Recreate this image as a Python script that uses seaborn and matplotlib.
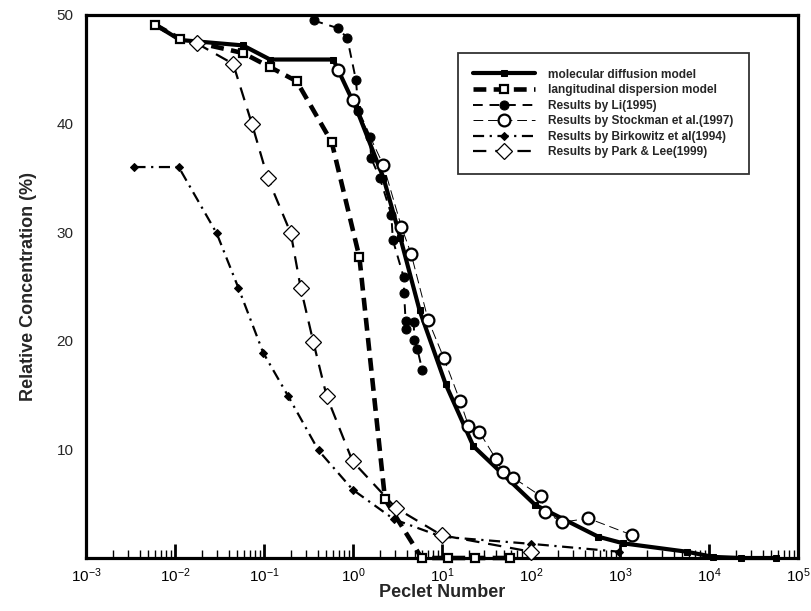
import numpy as np
import pandas as pd
import matplotlib
matplotlib.use("Agg")
import matplotlib.pyplot as plt
from matplotlib.ticker import LogLocator, NullFormatter, FixedLocator
import seaborn as sns

# ---- data -------------------------------------------------------------
mol_x = [0.006, 0.0114, 0.058, 0.117, 0.6, 1.1, 2.2, 3.4, 5.6, 11.0, 22.5, 111, 570, 1090, 5600, 11200, 23000, 57000]
mol_y = [49.1, 47.7, 47.2, 45.9, 45.9, 41.3, 35.0, 29.5, 22.8, 16.0, 10.3, 4.9, 1.96, 1.35, 0.58, 0.1, 0.0, 0.0]

disp_x = [0.006, 0.0114, 0.058, 0.117, 0.233, 0.576, 1.18, 2.29, 5.9, 11.8, 23.4, 58]
disp_y = [49.1, 47.8, 46.5, 45.2, 43.9, 38.3, 27.7, 5.4, 0.0, 0.0, 0.0, 0.0]

li_x = [0.36, 0.67, 0.86, 1.08, 1.15, 1.55, 1.6, 2.0, 2.7, 2.8, 3.7, 3.75, 3.9, 3.95, 4.8, 4.9, 5.3, 6.0]
li_y = [49.5, 48.8, 47.9, 44.0, 41.2, 38.8, 36.8, 35.0, 31.6, 29.3, 25.9, 24.4, 21.8, 21.1, 21.7, 20.1, 19.2, 17.3]

stock_x = [0.68, 0.99, 2.19, 3.5, 4.5, 7.0, 10.5, 15.9, 19.8, 26.3, 40.5, 48.8, 63, 129, 144, 225, 441, 1375]
stock_y = [44.9, 42.2, 36.2, 30.5, 28.0, 21.9, 18.4, 14.5, 12.2, 11.6, 9.1, 7.9, 7.4, 5.7, 4.2, 3.3, 3.65, 2.1]

birk_x = [0.0035, 0.011, 0.0294, 0.0514, 0.098, 0.187, 0.41, 0.99, 2.89, 9.9, 101, 975]
birk_y = [36.0, 36.0, 29.9, 24.9, 18.9, 14.9, 9.9, 6.3, 3.56, 1.96, 1.3, 0.58]

park_x = [0.0175, 0.045, 0.073, 0.11, 0.2, 0.258, 0.358, 0.506, 0.99, 3.04, 9.9, 100]
park_y = [47.4, 45.5, 40.0, 35.0, 29.9, 24.9, 19.9, 14.9, 8.9, 4.6, 2.1, 0.58]

series_labels = [
    "molecular diffusion model",
    "langitudinal dispersion model",
    "Results by Li(1995)",
    "Results by Stockman et al.(1997)",
    "Results by Birkowitz et al(1994)",
    "Results by Park & Lee(1999)",
]
x_ticks = [1e-3, 1e-2, 1e-1, 1e0, 1e1, 1e2, 1e3, 1e4, 1e5]
y_ticks = [10, 20, 30, 40, 50]

# ---- style ------------------------------------------------------------
sns.set_style("white")
plt.rcParams["font.family"] = ["Liberation Sans", "DejaVu Sans"]
plt.rcParams["mathtext.default"] = "regular"

fig = plt.figure(figsize=(8.12, 6.11), dpi=100)
ax = fig.add_axes([86 / 812, 1 - 558 / 611, 712 / 812, 543 / 611])

styles = [
    dict(x=mol_x, y=mol_y, linestyle="-", linewidth=3.0, marker="s", markersize=4,
         markerfacecolor="black", markeredgecolor="black"),
    dict(x=disp_x, y=disp_y, linestyle=(0, (2.8, 1.6)), linewidth=3.3, marker="s", markersize=6,
         markerfacecolor="white", markeredgecolor="black", markeredgewidth=1.6),
    dict(x=li_x, y=li_y, linestyle=(0, (5, 3.5)), linewidth=1.4, marker="o", markersize=6.5,
         markerfacecolor="black", markeredgecolor="black"),
    dict(x=stock_x, y=stock_y, linestyle=(0, (10, 5)), linewidth=0.7, marker="o", markersize=8.5,
         markerfacecolor="white", markeredgecolor="black", markeredgewidth=1.6),
    dict(x=birk_x, y=birk_y, linestyle=(0, (5, 2.5, 1, 2.5)), linewidth=1.6, marker="D", markersize=4.5,
         markerfacecolor="black", markeredgecolor="black"),
    dict(x=park_x, y=park_y, linestyle=(0, (6, 4)), linewidth=1.6, marker="D", markersize=8,
         markerfacecolor="white", markeredgecolor="black", markeredgewidth=0.9),
]

for lab, st in zip(series_labels, styles):
    st = dict(st)
    df = pd.DataFrame({"Pe": st.pop("x"), "C": st.pop("y")})
    sns.lineplot(data=df, x="Pe", y="C", ax=ax, color="black", label=lab,
                 estimator=None, sort=False, clip_on=False, **st)

# ---- axes -------------------------------------------------------------
ax.set_xscale("log")
ax.set_xlim(1e-3, 1e5)
ax.set_ylim(0, 50)
ax.xaxis.set_major_locator(FixedLocator(x_ticks))
ax.xaxis.set_minor_locator(LogLocator(base=10, subs=np.arange(2, 10), numticks=50))
ax.xaxis.set_minor_formatter(NullFormatter())
ax.set_yticks(y_ticks)

for sp in ax.spines.values():
    sp.set_visible(True)
    sp.set_linewidth(2.3)
    sp.set_color("black")
    sp.set_zorder(1)

ax.tick_params(axis="x", which="both", bottom=True, top=False)
ax.tick_params(axis="x", which="major", direction="in", length=10, width=2.0,
               labelsize=11, pad=6, colors="black")
ax.tick_params(axis="x", which="minor", direction="in", length=5.5, width=1.0, color="black")
ax.tick_params(axis="y", which="major", left=True, right=False, length=0, labelsize=11, pad=9)

ax.set_xlabel("Peclet Number", fontsize=13, fontweight="bold", labelpad=-1)
ax.set_ylabel("Relative Concentration (%)", fontsize=13, fontweight="bold", labelpad=14)

leg = ax.legend(loc="upper left", bbox_to_anchor=(0.522, 0.93), numpoints=1,
                handlelength=5.2, handletextpad=1.1, borderpad=1.3, labelspacing=0.3,
                prop={"size": 8.6, "weight": "bold"}, fancybox=False, frameon=True,
                edgecolor="black", borderaxespad=0)
leg.get_frame().set_linewidth(1.3)

fig.savefig("out.png", dpi=100)
